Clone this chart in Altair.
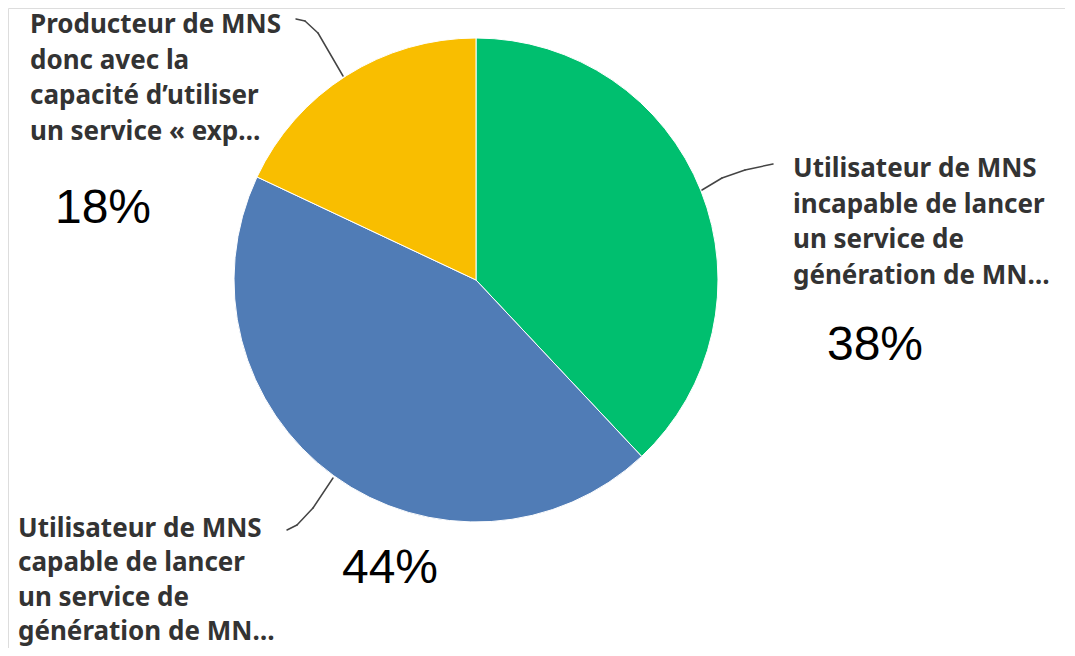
import altair as alt
import pandas as pd

# ---- data ----
categories = ["incapable", "capable", "producteur"]
values = [38, 44, 18]
pct_labels = ["38%", "44%", "18%"]
colors = ["#00BF6F", "#507CB6", "#F9BE00"]
cat_labels = [
    "Utilisateur de MNS\nincapable de lancer\nun service de\ngénération de MN…",
    "Utilisateur de MNS\ncapable de lancer\nun service de\ngénération de MN…",
    "Producteur de MNS\ndonc avec la\ncapacité d’utiliser\nun service « exp…",
]

df = pd.DataFrame({"cat": categories, "value": values, "order": [0, 1, 2]})

OFF = 8  # page margin
W, H = 1075 - 2 * OFF - 2, 656 - 2 * OFF
CX, CY, R = 476 - OFF, 280 - OFF, 242

pie = alt.Chart(df).mark_arc(radius=R, stroke="white", strokeWidth=1).encode(
    theta=alt.Theta("value:Q", stack=True),
    order=alt.Order("order:Q"),
    color=alt.Color("cat:N", scale=alt.Scale(domain=categories, range=colors), legend=None),
    x=alt.value(CX),
    y=alt.value(CY),
)

layers = [pie]

# category label anchors (left x, first baseline y, line height) in page coords
label_pos = [(793, 177, 35.5), (18, 537, 34.3), (30, 33, 35.5)]
pct_pos = [(875, 360), (390, 583), (103, 223)]

for i, cat in enumerate(categories):
    lx, ly, lh = label_pos[i]
    layers.append(
        alt.Chart(alt.Data(values=[{"t": cat_labels[i]}])).mark_text(
            align="left", baseline="alphabetic", lineBreak="\n", lineHeight=lh,
            font="Noto Sans", fontWeight="bold", fontSize=26, color="#333333",
        ).encode(text="t:N", x=alt.value(lx - OFF), y=alt.value(ly - OFF))
    )
    px, py = pct_pos[i]
    layers.append(
        alt.Chart(alt.Data(values=[{"t": pct_labels[i]}])).mark_text(
            align="center", baseline="alphabetic",
            font="Liberation Sans", fontSize=48, color="#000000",
        ).encode(text="t:N", x=alt.value(px - OFF), y=alt.value(py - OFF))
    )

# leader line segments (page coords)
segments = [
    (773, 164, 745, 170), (745, 170, 722, 178), (722, 178, 702, 190),
    (287, 530, 297, 525), (297, 525, 313, 508), (313, 508, 333, 478),
    (296, 19, 305, 21), (305, 21, 318, 33), (318, 33, 343, 76),
]
for (x1, y1, x2, y2) in segments:
    layers.append(
        alt.Chart(alt.Data(values=[{"a": 1}])).mark_rule(
            color="#444444", strokeWidth=1.5, strokeCap="round"
        ).encode(
            x=alt.value(x1 - OFF), y=alt.value(y1 - OFF),
            x2=alt.value(x2 - OFF), y2=alt.value(y2 - OFF),
        )
    )

chart = alt.layer(*layers).properties(
    width=W, height=H, autosize=alt.AutoSizeParams(type="none"), padding=0
).configure_view(stroke="transparent", strokeWidth=0).configure(background="white")

chart.save("out.html", embed_options={"renderer": "svg", "actions": False})
